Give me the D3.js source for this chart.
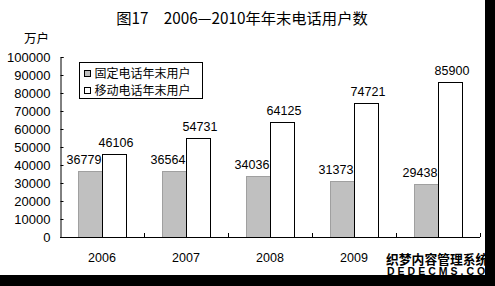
<!DOCTYPE html>
<html>
<head>
<meta charset="utf-8">
<style>
body { margin: 0; background: #fff; }
text { font-family: "Liberation Sans", Arial, "Noto Sans CJK SC", sans-serif; fill: #000; }
.cjk { font-family: "Noto Sans CJK SC", sans-serif; }
</style>
</head>
<body>
<div id="chart"></div>
<script src="https://d3js.org/d3.v7.min.js"></script>
<script>

var years = ["2006", "2007", "2008", "2009", "2010"];
var fixedUsers = [36779, 36564, 34036, 31373, 29438];
var mobileUsers = [46106, 54731, 64125, 74721, 85900];
var seriesNames = ["固定电话年末用户", "移动电话年末用户"];
var yTicks = [0, 10000, 20000, 30000, 40000, 50000, 60000, 70000, 80000, 90000, 100000];

var width = 495, height = 286;

var svg = d3.select("#chart").append("svg")
    .attr("width", width)
    .attr("height", height);

svg.append("rect").attr("width", width).attr("height", height).attr("fill", "#fff");

var x = d3.scaleBand().domain(years).range([60, 480]);
var bw = x.bandwidth();
var xs = d3.scaleBand().domain([0, 1]).range([bw / 2 - 24, bw / 2 + 24]);
var y = d3.scaleLinear().domain([0, 100000]).range([237, 57]);

// title
svg.append("text")
    .attr("class", "cjk")
    .attr("x", 242).attr("y", 24)
    .attr("text-anchor", "middle")
    .style("font-size", "15.3px")
    .text("图17　2006—2010年年末电话用户数");

svg.append("text")
    .attr("class", "cjk")
    .attr("x", 24).attr("y", 43)
    .style("font-size", "12.5px")
    .text("万户");

var rows = years.map(function(yr, i) { return {year: yr, vals: [fixedUsers[i], mobileUsers[i]]}; });

var groups = svg.selectAll(".grp")
  .data(rows)
  .enter().append("g")
    .attr("class", "grp")
    .attr("transform", function(d) { return "translate(" + x(d.year) + ",0)"; });

groups.selectAll("rect")
  .data(function(d) { return d.vals; })
  .enter().append("rect")
    .attr("x", function(d, i) { return xs(i) + 0.5; })
    .attr("y", function(d) { return Math.round(y(d)) + 0.5; })
    .attr("width", xs.bandwidth())
    .attr("height", function(d) { return 237 - Math.round(y(d)); })
    .attr("fill", function(d, i) { return i === 0 ? "#c0c0c0" : "#fff"; })
    .attr("stroke", function(d, i) { return i === 0 ? "#a0a0a0" : "#000"; })
    .attr("stroke-width", 1);

groups.selectAll(".lbl")
  .data(function(d) { return d.vals; })
  .enter().append("text")
    .attr("class", "lbl")
    .attr("x", function(d, i) { return xs(i) + xs.bandwidth() / 2 + (i === 0 ? -6 : 2); })
    .attr("y", function(d) { return y(d) - 7; })
    .attr("text-anchor", "middle")
    .style("font-size", "12.5px")
    .text(function(d) { return d; });

// axes
var yAxis = d3.axisLeft(y).tickValues(yTicks).tickFormat(d3.format("d")).tickSize(-3).tickPadding(10);
var gy = svg.append("g").attr("transform", "translate(60.5,0)").call(yAxis);
gy.selectAll("text").style("font-size", "13px").attr("fill", "#000");
gy.select(".domain").attr("stroke", "#000");

var xAxis = d3.axisBottom(x).tickSize(0).tickPadding(16);
var gx = svg.append("g").attr("transform", "translate(0,237.5)").call(xAxis);
gx.select(".domain").attr("d", "M60,0H480");
gx.selectAll("text").style("font-size", "12.5px").attr("fill", "#000");

// inner ticks between categories
svg.selectAll(".xtick")
  .data(years)
  .enter().append("line")
    .attr("x1", function(d) { return Math.round(x(d) + bw) + 0.5; })
    .attr("x2", function(d) { return Math.round(x(d) + bw) + 0.5; })
    .attr("y1", 237).attr("y2", 233)
    .attr("stroke", "#000");

// legend
var lg = svg.append("g").attr("transform", "translate(79.5,62.5)");
lg.append("rect").attr("width", 123).attr("height", 36).attr("fill", "#fff").attr("stroke", "#000");
seriesNames.forEach(function(name, i) {
  lg.append("rect")
    .attr("x", 5).attr("y", 8 + i * 17)
    .attr("width", 6).attr("height", 6)
    .attr("fill", i === 0 ? "#c0c0c0" : "#fff")
    .attr("stroke", "#000");
  lg.append("text")
    .attr("class", "cjk")
    .attr("x", 15).attr("y", 15.5 + i * 17)
    .style("font-size", "12px")
    .text(name);
});

// watermark (covers the last year label, as in the source image)
svg.append("rect").attr("x", 384).attr("y", 252).attr("width", 101).attr("height", 23).attr("fill", "#fff");
svg.append("text")
    .attr("class", "cjk")
    .attr("x", 386).attr("y", 264)
    .style("font-size", "12.8px")
    .style("font-weight", "bold")
    .text("织梦内容管理系统");
svg.append("text")
    .attr("x", 387).attr("y", 274.5)
    .style("font-size", "10.5px")
    .style("font-weight", "bold")
    .style("letter-spacing", "3px")
    .text("DEDECMS.COM");

// black strips on right and bottom
svg.append("rect").attr("x", 485).attr("y", 0).attr("width", 10).attr("height", height).attr("fill", "#000");
svg.append("rect").attr("x", 0).attr("y", 275).attr("width", width).attr("height", 11).attr("fill", "#000");

</script>
</body>
</html>
